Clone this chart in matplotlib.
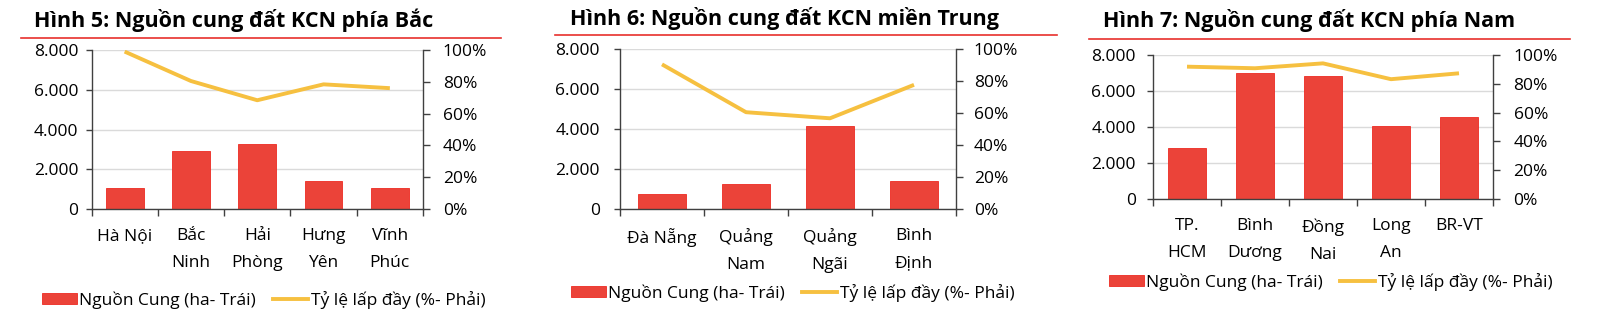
import matplotlib
matplotlib.use("Agg")
import matplotlib.pyplot as plt
from matplotlib.lines import Line2D
from matplotlib.patches import Patch
from matplotlib.ticker import FuncFormatter, FixedLocator

plt.rcParams['font.family'] = ['Open Sans', 'DejaVu Sans']

# ---- data ----
titles = ["Hình 5: Nguồn cung đất KCN phía Bắc",
          "Hình 6: Nguồn cung đất KCN miền Trung",
          "Hình 7: Nguồn cung đất KCN phía Nam"]

cats_bac = ["Hà Nội", "Bắc\nNinh", "Hải\nPhòng", "Hưng\nYên", "Vĩnh\nPhúc"]
supply_bac = [1080, 2920, 3250, 1400, 1040]
occ_bac = [0.99, 0.805, 0.684, 0.784, 0.76]

cats_trung = ["Đà Nẵng", "Quảng\nNam", "Quảng\nNgãi", "Bình\nĐịnh"]
supply_trung = [760, 1240, 4150, 1380]
occ_trung = [0.904, 0.605, 0.567, 0.776]

cats_nam = ["TP.\nHCM", "Bình\nDương", "Đồng\nNai", "Long\nAn", "BR-VT"]
supply_nam = [2830, 7000, 6840, 4060, 4580]
occ_nam = [0.919, 0.908, 0.942, 0.832, 0.873]

legend_bar = "Nguồn Cung (ha- Trái)"
legend_line = "Tỷ lệ lấp đầy (%- Phải)"

# ---- style ----
W, H = 1600, 315
BAR = "#EB4339"
BAR_EDGE = "#EE2A22"
LINE = "#F6C040"
GRID = "#DADADA"
SPINE = "#404040"
RED_RULE = "#E8302C"
FS = 12.5

fig = plt.figure(figsize=(W / 100, H / 100), dpi=100)


def px_rect(x0, y0, x1, y1):
    return [x0 / W, 1 - y1 / H, (x1 - x0) / W, (y1 - y0) / H]


panels = [
    dict(cats=cats_bac, sup=supply_bac, occ=occ_bac, rect=(91.5, 50, 423, 209),
         title_xy=(34, 27), rule=(21, 501, 38), leg=(42, 300), lpad=5, rpad=9.5),
    dict(cats=cats_trung, sup=supply_trung, occ=occ_trung, rect=(620, 49, 956, 209),
         title_xy=(570, 25), rule=(555, 1057, 35), leg=(571, 293), lpad=10, rpad=8),
    dict(cats=cats_nam, sup=supply_nam, occ=occ_nam, rect=(1153, 55, 1493, 199),
         title_xy=(1103, 27), rule=(1089, 1570, 39), leg=(1109, 282), lpad=8, rpad=10),
]

for t, p in zip(titles, panels):
    ax = fig.add_axes(px_rect(*p['rect']))
    n = len(p['cats'])
    x = list(range(n))
    ax.bar(x, p['sup'], width=0.57, color=BAR, edgecolor=BAR_EDGE, linewidth=0.6, zorder=2)
    ax.set_xlim(-0.5, n - 0.5)
    ax.set_ylim(0, 8000)
    ax.set_yticks([0, 2000, 4000, 6000, 8000])
    ax.yaxis.set_major_formatter(FuncFormatter(lambda v, _: f"{int(v):,}".replace(",", ".")))
    ax.grid(axis='y', color=GRID, linewidth=1.0, zorder=0)
    ax.set_axisbelow(True)
    ax.set_xticks(x)
    ax.set_xticklabels(p['cats'], fontsize=FS, linespacing=1.92)
    ax.xaxis.set_minor_locator(FixedLocator([i - 0.5 for i in range(n + 1)]))
    ax.tick_params(axis='x', which='major', length=0, pad=14)
    ax.tick_params(axis='x', which='minor', length=5, width=1.0, color=SPINE, direction='out')
    ax.tick_params(axis='y', length=4.5, width=1.0, color=SPINE, labelsize=FS, pad=p['lpad'])
    for s in ['top', 'right']:
        ax.spines[s].set_visible(False)
    for s in ['left', 'bottom']:
        ax.spines[s].set_color(SPINE)
        ax.spines[s].set_linewidth(1.0)

    ax2 = ax.twinx()
    ax2.plot(x, p['occ'], color=LINE, linewidth=2.8, solid_capstyle='butt', zorder=3)
    ax2.set_ylim(0, 1)
    ax2.set_yticks([0, 0.2, 0.4, 0.6, 0.8, 1.0])
    ax2.yaxis.set_major_formatter(FuncFormatter(lambda v, _: f"{v * 100:.0f}%"))
    ax2.tick_params(axis='y', length=4.8, width=1.0, color=SPINE, labelsize=FS, pad=p['rpad'])
    for s in ['top', 'left', 'bottom']:
        ax2.spines[s].set_visible(False)
    ax2.spines['right'].set_color(SPINE)
    ax2.spines['right'].set_linewidth(1.0)

    tx, ty = p['title_xy']
    fig.text(tx / W, 1 - ty / H, t, fontsize=15.5, fontweight='bold', ha='left',
             va='baseline', color='black')
    x0, x1, yr = p['rule']
    fig.add_artist(Line2D([x0 / W, x1 / W], [1 - yr / H, 1 - yr / H],
                          transform=fig.transFigure, color=RED_RULE, linewidth=1.2))

    handles = [Patch(facecolor=BAR, edgecolor=BAR_EDGE, linewidth=0.6),
               Line2D([0], [0], color=LINE, linewidth=2.8)]
    lx, ly = p['leg']
    fig.legend(handles, [legend_bar, legend_line], loc='center left',
               bbox_to_anchor=(lx / W, 1 - ly / H), bbox_transform=fig.transFigure,
               ncol=2, frameon=False, fontsize=FS, handlelength=2.0, handleheight=0.6,
               handletextpad=0.15, columnspacing=1.0, borderpad=0, borderaxespad=0)

fig.savefig("out.png", dpi=100)
